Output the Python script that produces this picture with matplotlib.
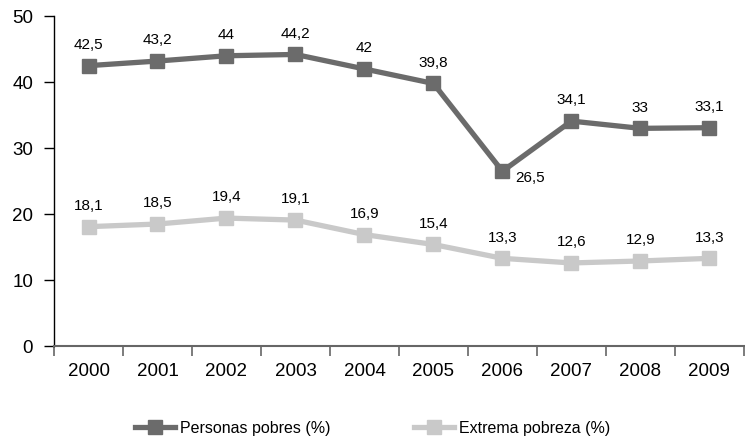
import matplotlib.pyplot as plt

plt.rcParams['font.family'] = ['Liberation Sans', 'DejaVu Sans']

# data
years = ["2000", "2001", "2002", "2003", "2004", "2005", "2006", "2007", "2008", "2009"]
pobres = [42.5, 43.2, 44, 44.2, 42, 39.8, 26.5, 34.1, 33, 33.1]
extrema = [18.1, 18.5, 19.4, 19.1, 16.9, 15.4, 13.3, 12.6, 12.9, 13.3]

col_dark = "#6b6b6b"
col_light = "#c9c9c9"

fig = plt.figure(figsize=(7.45, 4.37), dpi=100)
ax = fig.add_axes([0.0725, 0.208, 0.926, 0.755])

xs = list(range(len(years)))
ax.plot(xs, pobres, c=col_dark, lw=3.8, marker="s", ms=10, label="Personas pobres (%)", zorder=3)
ax.plot(xs, extrema, c=col_light, lw=3.8, marker="s", ms=10, label="Extrema pobreza (%)", zorder=3)

def fmt(v):
    s = ("%.1f" % v).rstrip("0").rstrip(".")
    return s.replace(".", ",")

lab_size = 11
for x, v in zip(xs, pobres):
    if v == min(pobres):
        ax.annotate(fmt(v), (x, v), xytext=(9, -5), textcoords="offset points",
                    ha="left", va="center", fontsize=lab_size)
    else:
        ax.annotate(fmt(v), (x, v), xytext=(0, 15), textcoords="offset points",
                    ha="center", va="center", fontsize=lab_size)
for x, v in zip(xs, extrema):
    ax.annotate(fmt(v), (x, v), xytext=(0, 15), textcoords="offset points",
                ha="center", va="center", fontsize=lab_size)

ax.set_xlim(-0.5, len(years) - 0.5)
ax.set_ylim(0, 50)
ax.set_yticks([0, 10, 20, 30, 40, 50])
ax.set_xticks(xs)
ax.set_xticklabels(years, fontsize=13.5)
ax.set_xticks([x - 0.5 for x in xs] + [len(years) - 0.5], minor=True)
ax.tick_params(axis="x", which="major", length=0, pad=12)
ax.tick_params(axis="x", which="minor", length=7, color="#666666", width=1.2)
ax.tick_params(axis="y", length=7, width=1, labelsize=13.5, pad=8)

for side in ["top", "right"]:
    ax.spines[side].set_visible(False)
ax.spines["bottom"].set_color("#666666")
ax.spines["bottom"].set_linewidth(1.5)
ax.spines["left"].set_linewidth(1)

fig.legend(loc="center", bbox_to_anchor=(0.5, 0.02), ncol=2, frameon=False,
           fontsize=11.5, handlelength=2.5, handletextpad=0.35, columnspacing=5.2)

plt.savefig("out.png", dpi=100)
